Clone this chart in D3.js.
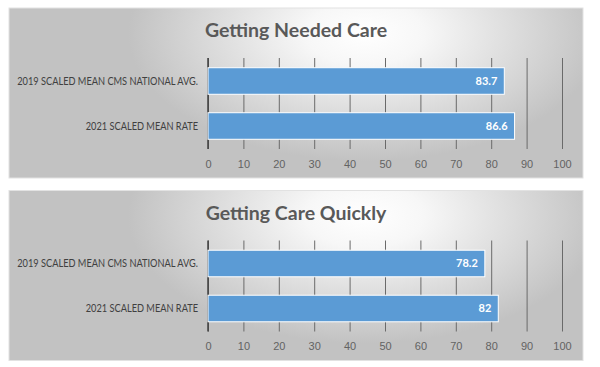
<!DOCTYPE html>
<html>
<head>
<meta charset="utf-8">
<script src="https://cdn.jsdelivr.net/npm/d3@7"></script>
<style>
  body { margin: 0; background: #ffffff; }
  svg { display: block; font-family: Lato, "Open Sans", sans-serif; }
  .grid line { stroke: #6a6a6a; stroke-width: 1; }
  .grid path { display: none; }
  .grid text { fill: #636363; font-size: 11px; }
</style>
</head>
<body>
<div id="chart"></div>
<script>
document.addEventListener('DOMContentLoaded', function() {
        // Data
        const categories = ["2019 SCALED MEAN CMS NATIONAL AVG.", "2021 SCALED MEAN RATE"];
        const titles = ["Getting Needed Care", "Getting Care Quickly"];
        const neededCareValues = [83.7, 86.6];
        const careQuicklyValues = [78.2, 82];
        const tickValues = [0, 10, 20, 30, 40, 50, 60, 70, 80, 90, 100];

        const panels = [
            { title: titles[0], values: neededCareValues, top: 8 },
            { title: titles[1], values: careQuicklyValues, top: 190.5 }
        ];

        // Dimensions
        const width = 600, height = 367;
        const panelLeft = 9, panelWidth = 574, panelHeight = 170;
        const labelWidth = 181; // width of the longest category label

        const svg = d3.select("#chart")
            .append("svg")
            .attr("width", width)
            .attr("height", height);

        const defs = svg.append("defs");

        // Soft radial background like the office chart style
        const bg = defs.append("radialGradient")
            .attr("id", "panel-bg")
            .attr("cx", "62%")
            .attr("cy", "15%")
            .attr("r", "75%")
            .attr("gradientTransform", "translate(0.62,0.15) scale(0.55,1) translate(-0.62,-0.15)");
        bg.append("stop").attr("offset", "0%").attr("stop-color", "#ffffff");
        bg.append("stop").attr("offset", "25%").attr("stop-color", "#f7f7f7");
        bg.append("stop").attr("offset", "100%").attr("stop-color", "#c2c2c2");

        // Scales
        const xScale = d3.scaleLinear()
            .domain([0, 100])
            .range([208, 562]);

        const gridTop = 50, gridBottom = 141;

        const yScale = d3.scaleBand()
            .domain(categories)
            .range([gridTop, gridBottom])
            .paddingInner(0.41)
            .paddingOuter(0.216);

        panels.forEach(function(p) {
            const g = svg.append("g")
                .attr("transform", `translate(0,${p.top})`);

            // panel
            g.append("rect")
                .attr("x", panelLeft)
                .attr("y", 0)
                .attr("width", panelWidth)
                .attr("height", panelHeight)
                .attr("fill", "url(#panel-bg)")
                .attr("stroke", "#e2e2e2")
                .attr("stroke-width", 1);

            // title
            g.append("text")
                .attr("x", panelLeft + panelWidth / 2)
                .attr("y", 29)
                .attr("text-anchor", "middle")
                .attr("fill", "#595959")
                .attr("font-size", "19.5px")
                .attr("font-weight", "bold")
                .text(p.title);

            // grid + tick labels
            g.append("g")
                .attr("class", "grid")
                .attr("transform", `translate(0,${gridBottom})`)
                .call(d3.axisBottom(xScale)
                    .tickValues(tickValues)
                    .tickSize(-(gridBottom - gridTop))
                    .tickPadding(11));

            // category axis line
            g.append("line")
                .attr("x1", xScale(0))
                .attr("x2", xScale(0))
                .attr("y1", gridTop)
                .attr("y2", gridBottom)
                .attr("stroke", "#404040")
                .attr("stroke-width", 1.5);

            // category labels (condensed to the narrow office font width)
            const catG = g.append("g")
                .attr("transform", `translate(${xScale(0) - 10},0)`);
            const cats = catG.selectAll(".cat")
                .data(categories)
                .enter().append("text")
                .attr("class", "cat")
                .attr("x", 0)
                .attr("y", d => yScale(d) + yScale.bandwidth() / 2)
                .attr("dy", "0.35em")
                .attr("text-anchor", "end")
                .attr("fill", "#404040")
                .attr("font-size", "11px")
                .text(d => d);
            const longest = d3.max(cats.nodes(), n => n.getComputedTextLength());
            catG.attr("transform", `translate(${xScale(0) - 10},0) scale(${labelWidth / longest},1)`);

            // bars
            g.selectAll(".bar")
                .data(p.values)
                .enter().append("rect")
                .attr("class", "bar")
                .attr("x", xScale(0))
                .attr("y", (d, i) => yScale(categories[i]))
                .attr("width", d => xScale(d) - xScale(0))
                .attr("height", yScale.bandwidth())
                .attr("fill", "#5b9bd5")
                .attr("stroke", "#ffffff")
                .attr("stroke-width", 1);

            // value labels
            g.selectAll(".val")
                .data(p.values)
                .enter().append("text")
                .attr("class", "val")
                .attr("x", d => xScale(d) - 7)
                .attr("y", (d, i) => yScale(categories[i]) + yScale.bandwidth() / 2)
                .attr("dy", "0.35em")
                .attr("text-anchor", "end")
                .attr("fill", "#ffffff")
                .attr("font-size", "11px")
                .attr("font-weight", "bold")
                .text(d => d);
        });
});
</script>
</body>
</html>
